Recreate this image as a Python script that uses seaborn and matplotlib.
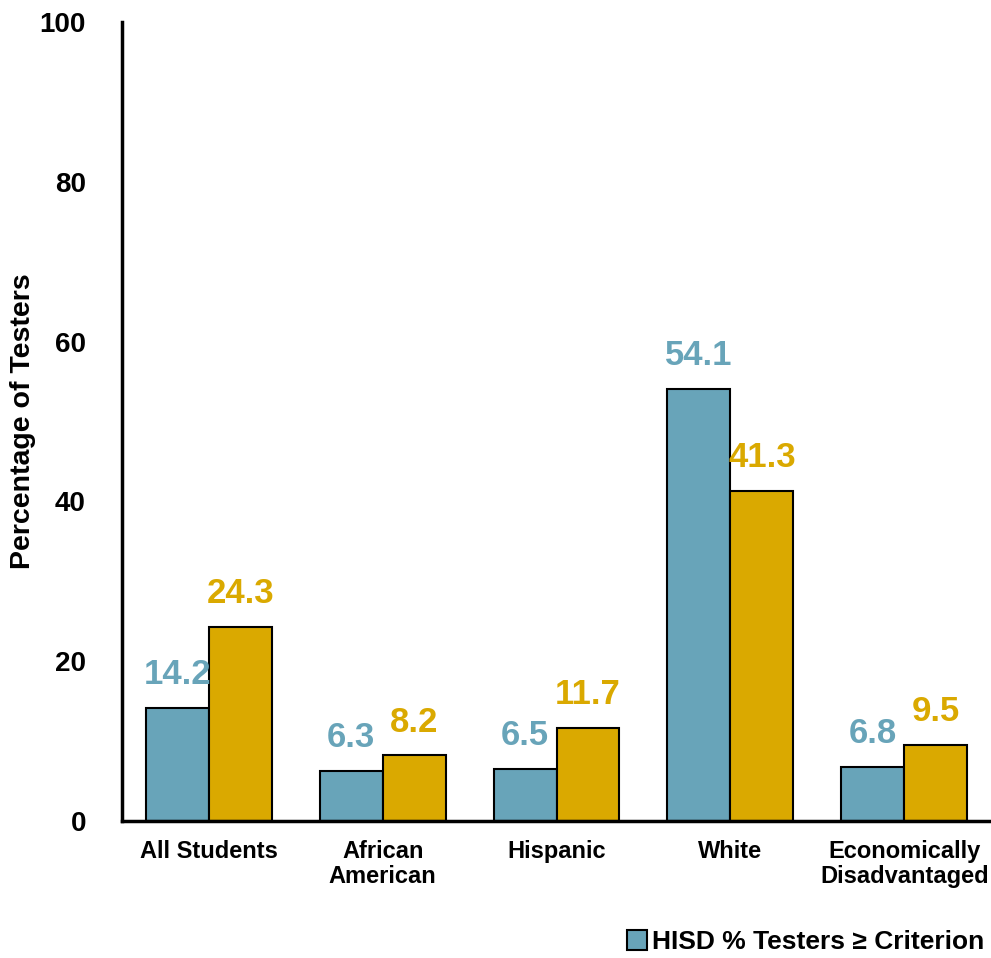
import matplotlib
matplotlib.use("Agg")
import matplotlib.pyplot as plt
import seaborn as sns
import pandas as pd

categories = ["All Students", "African\nAmerican", "Hispanic", "White", "Economically\nDisadvantaged"]
series_names = ["HISD % Testers \u2265 Criterion", "Comparison % Testers \u2265 Criterion"]
hisd_values = [14.2, 6.3, 6.5, 54.1, 6.8]
comparison_values = [24.3, 8.2, 11.7, 41.3, 9.5]
yticks = [0, 20, 40, 60, 80, 100]
colors = ["#68A4B9", "#DAA900"]

df = pd.DataFrame({
    "Group": categories * 2,
    "Series": [series_names[0]] * len(categories) + [series_names[1]] * len(categories),
    "Value": hisd_values + comparison_values,
})

sns.set_theme(style="white")
plt.rcParams["font.family"] = ["Liberation Sans", "DejaVu Sans"]
plt.rcParams["font.weight"] = "bold"
plt.rcParams["text.color"] = "black"
plt.rcParams["axes.labelcolor"] = "black"
plt.rcParams["xtick.color"] = "black"
plt.rcParams["ytick.color"] = "black"

fig = plt.figure(figsize=(9.91, 9.58), dpi=100)
ax = fig.add_axes([0.1231, 0.143, 0.877, 0.834])

sns.barplot(data=df, x="Group", y="Value", hue="Series", order=categories,
            hue_order=series_names, palette=colors, width=0.724,
            edgecolor="black", linewidth=1.5, saturation=1, ax=ax, legend=False)

for cont, col in zip(ax.containers, colors):
    ax.bar_label(cont, labels=[f"{v:.1f}" for v in cont.datavalues], color=col,
                 fontsize=25, fontweight="bold", padding=12)

ax.set_ylim(0, 100)
ax.set_xlim(-0.5, 4.5)
ax.set_yticks(yticks)
ax.set_yticklabels([str(t) for t in yticks], fontsize=20, fontweight="bold", color="black")
ax.tick_params(axis="y", length=0, pad=26)
ax.tick_params(axis="x", length=0, pad=14, labelsize=17)
for lbl in ax.get_xticklabels():
    lbl.set_fontweight("bold")
    lbl.set_color("black")
    lbl.set_linespacing(1.1)
ax.set_xlabel("")
ax.set_ylabel("Percentage of Testers", fontsize=20.5, fontweight="bold", color="black")
ax.yaxis.set_label_coords(-0.099, 0.5)

for s in ["top", "right"]:
    ax.spines[s].set_visible(False)
for s in ["left", "bottom"]:
    ax.spines[s].set_color("black")
    ax.spines[s].set_linewidth(2.5)

h = ax.containers[0].patches[0]
fig.legend([h], [series_names[0]], loc="lower right", bbox_to_anchor=(0.997, 0.0),
           frameon=False, prop={"size": 19, "weight": "bold"}, borderpad=0.15,
           handlelength=0.75, handleheight=0.75, handletextpad=0.2, borderaxespad=0.0)

fig.savefig("out.png", dpi=100)
